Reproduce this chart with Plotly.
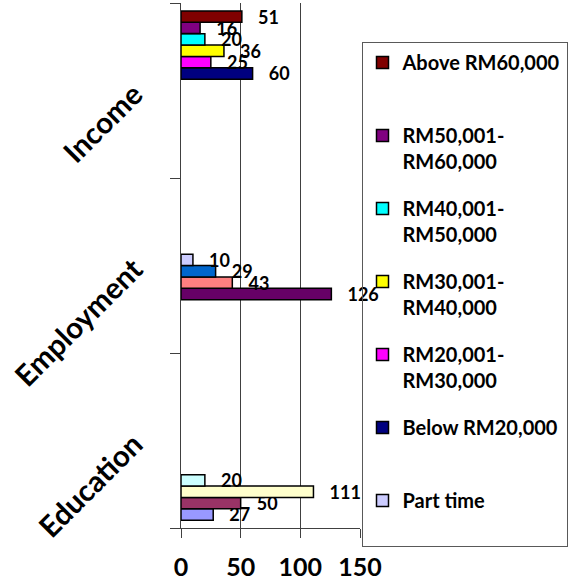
import plotly.graph_objects as go

# ---- data ----
categories = ["Education", "Employment", "Income"]

# series in plotting order (first = bottom of each category band)
series_names = [
    "", "", "", "",                      # education series (legend entries not visible)
    "", "", "", "Part time",             # employment series
    "Below RM20,000", "RM20,001-RM30,000", "RM30,001-RM40,000",
    "RM40,001-RM50,000", "RM50,001-RM60,000", "Above RM60,000",
]
legend_labels = [
    None, None, None, None,
    None, None, None, "Part time<br>\u00a0",
    "Below RM20,000<br>\u00a0", "RM20,001-<br>RM30,000", "RM30,001-<br>RM40,000",
    "RM40,001-<br>RM50,000", "RM50,001-<br>RM60,000", "Above RM60,000<br>\u00a0",
]
series_category = [
    "Education", "Education", "Education", "Education",
    "Employment", "Employment", "Employment", "Employment",
    "Income", "Income", "Income", "Income", "Income", "Income",
]
series_values = [27, 50, 111, 20, 126, 43, 29, 10, 60, 25, 36, 20, 16, 51]
series_colors = [
    "#9999FF", "#993366", "#FFFFCC", "#CCFFFF",
    "#660066", "#FF8080", "#0066CC", "#CCCCFF",
    "#000080", "#FF00FF", "#FFFF00", "#00FFFF", "#800080", "#800000",
]
x_ticks = [0, 50, 100, 150]

fig = go.Figure()
for i, (name, cat, val, col, lab) in enumerate(
        zip(series_names, series_category, series_values, series_colors, legend_labels)):
    fig.add_trace(go.Bar(
        y=[cat], x=[val], orientation="h",
        name=lab if lab else name,
        showlegend=lab is not None,
        legendgroup=f"g{i}",
        legendrank=100 - i,
        marker=dict(color=col, line=dict(color="black", width=1.5)),
        text=[val],
        texttemplate="\u00a0\u00a0\u00a0%{x}",
        textposition="outside",
        constraintext="none",
        cliponaxis=False,
        textfont=dict(family="Lato", size=18, color="black", weight="bold"),
    ))

fig.update_layout(
    width=568, height=581,
    margin=dict(l=181, r=207.5, t=3, b=53, autoexpand=False),
    paper_bgcolor="white", plot_bgcolor="white",
    barmode="group", bargap=0.09, bargroupgap=0,
    font=dict(family="Lato", color="black"),
    legend=dict(
        x=1.0084, y=0.9257, xanchor="left", yanchor="top",
        bgcolor="rgba(0,0,0,0)", bordercolor="#595959", borderwidth=1,
        font=dict(family="Lato", size=20, color="black", weight="bold"),
        valign="top", traceorder="grouped", tracegroupgap=18,
    ),
    xaxis=dict(
        range=[0, 150], tickvals=x_ticks, showgrid=True, gridcolor="#404040", gridwidth=1,
        showline=True, linecolor="#404040", linewidth=1, zeroline=False,
        ticks="outside", ticklen=9, tickcolor="#404040",
        tickfont=dict(family="Lato", size=25, color="black", weight="bold"),
        ticklabelstandoff=8, automargin=False,
    ),
    yaxis=dict(
        type="category", categoryorder="array", categoryarray=categories,
        showline=True, linecolor="#404040", linewidth=1, showgrid=False,
        ticks="outside", ticklen=10, tickcolor="#404040", tickson="boundaries",
        tickangle=-45,
        tickfont=dict(family="Lato", size=29.5, color="black", weight="bold"),
        ticklabelstandoff=40, automargin=False,
    ),
)

fig.write_html("out.html")
